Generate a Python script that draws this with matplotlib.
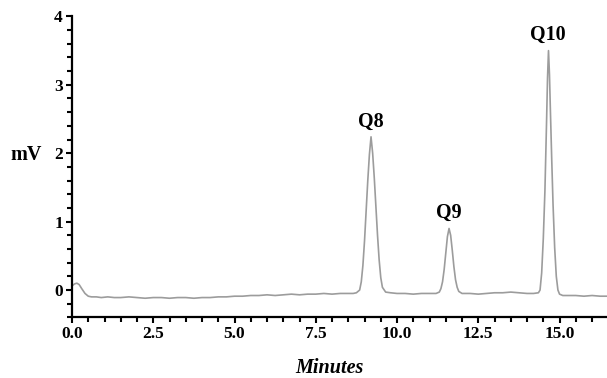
import matplotlib
matplotlib.use("Agg")
import matplotlib.pyplot as plt
from matplotlib.ticker import MultipleLocator, FormatStrFormatter

# Chromatogram trace (time in minutes, signal in mV)
time_min = [
    0.0, 0.08, 0.15, 0.22, 0.3, 0.4, 0.5, 0.6, 0.75, 0.9, 1.1, 1.3, 1.5, 1.75,
    2.0, 2.25, 2.5, 2.75, 3.0, 3.25, 3.5, 3.75, 4.0, 4.25, 4.5, 4.75, 5.0,
    5.25, 5.5, 5.75, 6.0, 6.25, 6.5, 6.75, 7.0, 7.25, 7.5, 7.75, 8.0, 8.25,
    8.5, 8.65, 8.75,
    8.85, 8.9, 8.95, 9.0, 9.05, 9.1, 9.15, 9.2, 9.25, 9.3, 9.35, 9.4, 9.45,
    9.5, 9.55, 9.65,
    9.8, 10.0, 10.25, 10.5, 10.75, 11.0, 11.2, 11.3,
    11.35, 11.4, 11.45, 11.5, 11.55, 11.6, 11.65, 11.7, 11.75, 11.8, 11.85,
    11.9, 12.0,
    12.25, 12.5, 12.75, 13.0, 13.25, 13.5, 13.75, 14.0, 14.2, 14.35,
    14.4, 14.45, 14.5, 14.55, 14.6, 14.63, 14.66, 14.69, 14.72, 14.76, 14.8,
    14.85, 14.9, 14.95, 15.0, 15.1,
    15.25, 15.5, 15.75, 16.0, 16.25, 16.46,
]
signal_mv = [
    0.06, 0.09, 0.10, 0.08, 0.02, -0.05, -0.09, -0.10, -0.10, -0.11, -0.10,
    -0.11, -0.11, -0.10, -0.11, -0.12, -0.11, -0.11, -0.12, -0.11, -0.11,
    -0.12, -0.11, -0.11, -0.10, -0.10, -0.09, -0.09, -0.08, -0.08, -0.07,
    -0.08, -0.07, -0.06, -0.07, -0.06, -0.06, -0.05, -0.06, -0.05, -0.05,
    -0.05, -0.04,
    0.00, 0.12, 0.36, 0.72, 1.16, 1.60, 1.98, 2.24, 2.00, 1.64, 1.22, 0.80,
    0.44, 0.18, 0.04, -0.03,
    -0.04, -0.05, -0.05, -0.06, -0.05, -0.05, -0.05, -0.03,
    0.02, 0.12, 0.30, 0.54, 0.78, 0.90, 0.80, 0.58, 0.34, 0.15, 0.04,
    -0.02, -0.05,
    -0.05, -0.06, -0.05, -0.04, -0.04, -0.03, -0.04, -0.05, -0.05, -0.04,
    0.00, 0.25, 0.75, 1.45, 2.45, 3.10, 3.50, 3.15, 2.60, 1.90, 1.25,
    0.62, 0.20, 0.00, -0.06, -0.08,
    -0.08, -0.08, -0.09, -0.08, -0.09, -0.09,
]

peak_names = ["Q8", "Q9", "Q10"]
peak_times = [9.2, 11.6, 14.66]
peak_heights = [2.24, 0.90, 3.50]

x_ticks = [0.0, 2.5, 5.0, 7.5, 10.0, 12.5, 15.0]
y_ticks = [0, 1, 2, 3, 4]

serif = ["Liberation Serif", "DejaVu Serif"]

fig = plt.figure(figsize=(6.07, 3.78), dpi=100)
ax = fig.add_axes([72 / 607, 1 - 317.4 / 378, 1 - 72 / 607, (317.4 - 16.4) / 378])

ax.plot(time_min, signal_mv, color="#9c9c9c", lw=1.2)

ax.set_xlim(0, 16.46)
ax.set_ylim(-0.4, 4.0)

for s in ["top", "right"]:
    ax.spines[s].set_visible(False)
for s in ["left", "bottom"]:
    ax.spines[s].set_linewidth(1.6)
    ax.spines[s].set_color("black")

ax.set_xticks(x_ticks)
ax.xaxis.set_minor_locator(MultipleLocator(0.5))
ax.xaxis.set_major_formatter(FormatStrFormatter("%.1f"))
ax.set_yticks(y_ticks)
ax.yaxis.set_minor_locator(MultipleLocator(0.2))

ax.tick_params(which="both", direction="out", width=1.5, color="black")
ax.tick_params(which="major", length=4.5, pad=2)
ax.tick_params(which="minor", length=3.5)

for lab in ax.get_xticklabels() + ax.get_yticklabels():
    lab.set_fontfamily(serif)
    lab.set_fontweight("bold")
    lab.set_fontsize(12.5)

ax.set_ylabel("mV", rotation=0, fontfamily=serif, fontweight="bold", fontsize=14.5,
              va="center", ha="center")
ax.yaxis.set_label_coords((26 - 72) / 535, (317.4 - 155) / 301)

ax.set_xlabel("Minutes", fontfamily=serif, fontweight="bold", fontstyle="italic",
              fontsize=14.5, va="center", ha="center")
ax.xaxis.set_label_coords((329 - 72) / 535, (317.4 - 368) / 301)

for name, t, h in zip(peak_names, peak_times, peak_heights):
    ax.annotate(name, xy=(t, h), xytext=(-0.5, 11), textcoords="offset points",
                ha="center", va="center", fontfamily=serif, fontweight="bold",
                fontsize=14.5)

fig.savefig("out.png", dpi=100)
